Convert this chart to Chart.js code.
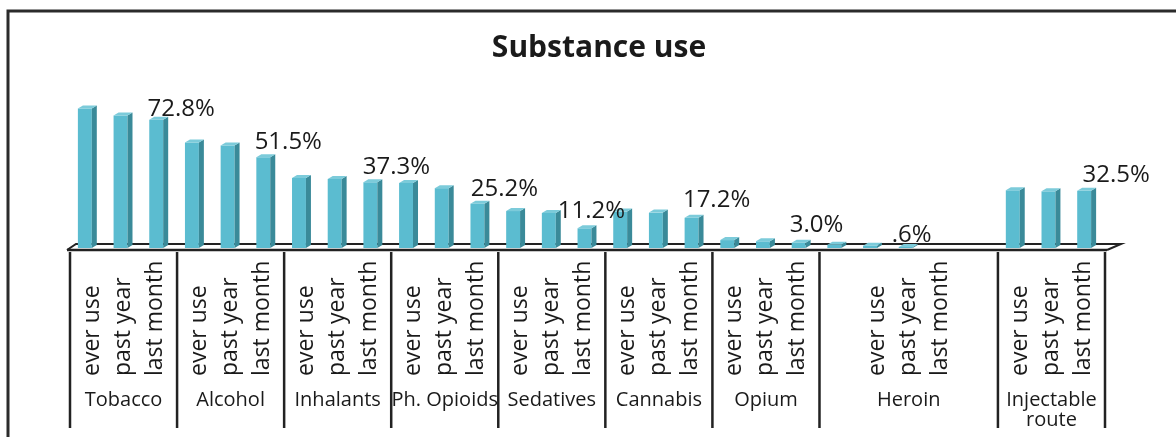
<!DOCTYPE html>
<html>
<head>
<meta charset="utf-8">
<script src="https://cdn.jsdelivr.net/npm/chart.js@4/dist/chart.umd.min.js"></script>
<style>
  html, body { margin: 0; padding: 0; background: #ffffff; }
  #wrap { width: 1176px; height: 437px; position: relative; }
</style>
</head>
<body>
<div id="wrap"><canvas id="chart"></canvas></div>
<script>
"use strict";

// Data
var groups = ["Tobacco", "Alcohol", "Inhalants", "Ph. Opioids", "Sedatives", "Cannabis", "Opium", "Heroin", ["Injectable", "route"]];
var periods = ["ever use", "past year", "last month"];
var everUse = [79.3, 60.0, 39.8, 36.9, 21.0, 20.7, 4.5, 1.8, 32.8];
var pastYear = [75.3, 58.3, 39.2, 34.0, 19.9, 20.1, 3.8, 1.3, 32.2];
var lastMonth = [72.8, 51.5, 37.3, 25.2, 11.2, 17.2, 3.0, 0.6, 32.5];
// number of axis slots each group takes (Heroin has two empty ones)
var groupSlots = [3, 3, 3, 3, 3, 3, 3, 5, 3];

// Build slot arrays for the category scale
var slotLabels = [], slotValues = [], groupStart = [];
groups.forEach(function (g, i) {
    groupStart.push(slotLabels.length);
    var series = [everUse[i], pastYear[i], lastMonth[i]];
    for (var k = 0; k < groupSlots[i]; k++) {
        slotLabels.push("s" + slotLabels.length);
        slotValues.push(k < 3 ? series[k] : null);
    }
});

var FRONT = "#5bbcd0", SIDE = "#3a8a99", TOP = "#7ccbda", INK = "#1a1a1a";
var SHIFT = 3; // bars sit a little left of the axis slots in the original

// Value label nudges (px) for the last month bars, as placed in the original
var labelShift = [[22, -4], [22, -8], [23, -8], [24, -8], [4, -10], [22, -11], [15, -11], [3, -5], [29, -9]];

function fmt(v) {
    var s = v.toFixed(1) + "%";
    return s.charAt(0) === "0" ? s.slice(1) : s;
}

// Frame, title, floor (behind bars)
var backdrop = {
    id: "backdrop",
    beforeDatasetsDraw: function (chart) {
        var c = chart.ctx, a = chart.chartArea;
        var base = chart.scales.y.getPixelForValue(0);
        var left = a.left + SHIFT, right = a.right + SHIFT;
        c.save();
        c.strokeStyle = "#2b2b2b";
        c.lineWidth = 3;
        c.beginPath();
        c.moveTo(8, 440);
        c.lineTo(8, 11);
        c.lineTo(1180, 11);
        c.stroke();

        c.fillStyle = INK;
        c.font = "bold 30px 'Open Sans'";
        c.textAlign = "center";
        c.textBaseline = "middle";
        c.fillText("Substance use", 599, 48);

        // floor
        c.strokeStyle = "#222";
        c.lineWidth = 2;
        c.beginPath();
        c.moveTo(left - 3, base + 2);
        c.lineTo(left + 6, base - 4);
        c.lineTo(right + 16, base - 4);
        c.lineTo(right + 2, base + 2);
        c.stroke();
        c.restore();
    },
    afterDatasetsDraw: function (chart) {
        var c = chart.ctx;
        var base = chart.scales.y.getPixelForValue(0);
        var a = chart.chartArea;
        c.save();
        c.strokeStyle = "#222";
        c.lineWidth = 2.5;
        c.beginPath();
        c.moveTo(a.left + SHIFT - 3, base + 2);
        c.lineTo(a.right + SHIFT + 2, base + 2);
        c.stroke();
        c.restore();
    }
};

// Side and top faces of the 3D bars
var bars3d = {
    id: "bars3d",
    afterDatasetDraw: function (chart, args) {
        var c = chart.ctx, d = 5, dy = 3;
        c.save();
        args.meta.data.forEach(function (bar, i) {
            if (slotValues[i] === null) return;
            var p = bar.getProps(["x", "y", "base", "width"], true);
            var l = p.x - p.width / 2, r = p.x + p.width / 2;
            c.fillStyle = SIDE;
            c.beginPath();
            c.moveTo(r, p.y);
            c.lineTo(r + d, p.y - dy);
            c.lineTo(r + d, p.base - dy);
            c.lineTo(r, p.base);
            c.closePath();
            c.fill();
            c.fillStyle = TOP;
            c.beginPath();
            c.moveTo(l, p.y);
            c.lineTo(l + d, p.y - dy);
            c.lineTo(r + d, p.y - dy);
            c.lineTo(r, p.y);
            c.closePath();
            c.fill();
        });
        c.restore();
    }
};

// Value labels, grouped category axis
var labels = {
    id: "labels",
    afterDraw: function (chart) {
        var c = chart.ctx, x = chart.scales.x;
        var meta = chart.getDatasetMeta(0);
        var half = (x.getPixelForValue(1) - x.getPixelForValue(0)) / 2;
        c.save();
        c.fillStyle = INK;

        // values on last month bars
        c.font = "24px 'Open Sans'";
        c.textAlign = "center";
        c.textBaseline = "alphabetic";
        groups.forEach(function (g, i) {
            var bar = meta.data[groupStart[i] + 2];
            c.fillText(fmt(lastMonth[i]), bar.x + SHIFT + labelShift[i][0], bar.y + labelShift[i][1]);
        });

        // dividers
        c.strokeStyle = "#222";
        c.lineWidth = 2.5;
        c.beginPath();
        groups.forEach(function (g, i) {
            var px = x.getPixelForValue(groupStart[i]) - half + SHIFT;
            c.moveTo(px, 252);
            c.lineTo(px, 428);
        });
        var last = x.getPixelForValue(slotLabels.length - 1) + half + SHIFT;
        c.moveTo(last, 252);
        c.lineTo(last, 428);
        c.stroke();

        groups.forEach(function (g, i) {
            var s0 = x.getPixelForValue(groupStart[i]);
            var s1 = x.getPixelForValue(groupStart[i] + groupSlots[i] - 1);
            var mid = (s0 + s1) / 2 + SHIFT;
            // period labels, rotated
            c.font = "23px 'Open Sans'";
            c.textAlign = "left";
            c.textBaseline = "middle";
            periods.forEach(function (p, k) {
                c.save();
                c.translate(mid + (k - 1) * 31.5, 376);
                c.rotate(-Math.PI / 2);
                c.fillText(p, 0, 0);
                c.restore();
            });
            // group name
            c.font = "20px 'Open Sans'";
            c.textAlign = "center";
            var lines = Array.isArray(g) ? g : [g];
            lines.forEach(function (t, j) {
                c.fillText(t, mid, 400 + j * 20);
            });
        });
        c.restore();
    }
};

var ctx = document.getElementById("chart").getContext("2d");
var myChart = new Chart(ctx, {
    type: "bar",
    data: {
        labels: slotLabels,
        datasets: [{
            label: "Substance use",
            data: slotValues,
            backgroundColor: FRONT,
            borderWidth: 0,
            barPercentage: 0.39,
            categoryPercentage: 1
        }]
    },
    options: {
        responsive: true,
        maintainAspectRatio: false,
        animation: false,
        layout: { padding: { left: 70 - SHIFT, right: 71 + SHIFT, top: 72, bottom: 189 } },
        plugins: {
            legend: { display: false },
            title: { display: false },
            tooltip: { enabled: false }
        },
        scales: {
            x: { display: false, offset: true },
            y: { display: false, min: 0, max: 100 }
        }
    },
    plugins: [backdrop, bars3d, labels]
});
</script>
</body>
</html>
